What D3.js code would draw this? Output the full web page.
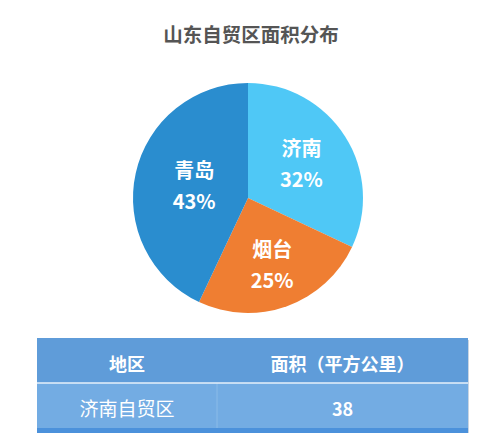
<!DOCTYPE html>
<html lang="zh">
<head>
<meta charset="UTF-8">
<title>山东自贸区面积分布</title>
<script src="https://d3js.org/d3.v7.min.js"></script>
<style>
  body { margin: 0; background: #fff; }
  svg { display: block; font-family: "Noto Sans CJK SC", "Noto Sans", sans-serif; }
</style>
</head>
<body>
<div id="chart"></div>
<script>
// 饼图数据
var names = ["济南", "烟台", "青岛"];
var shares = [32, 25, 43];
var colors = ["#4fc8f6", "#ef7e32", "#2a8dcf"];

// 表格数据（只显示到第一行，下一行被截断）
var headers = ["地区", "面积（平方公里）"];
var regions = ["济南自贸区"];
var areas = [38];

var W = 500, H = 433;
var svg = d3.select("#chart").append("svg")
    .attr("width", W).attr("height", H);

// 标题
svg.append("text")
    .attr("x", 251).attr("y", 42)
    .attr("text-anchor", "middle")
    .style("font-size", "19.5px").style("font-weight", "bold")
    .style("fill", "#555")
    .text("山东自贸区面积分布");

// 饼图
var cx = 248, cy = 198, r = 115;
var data = names.map(function(d, i) { return {name: d, value: shares[i], color: colors[i]}; });
var pie = d3.pie().sort(null).value(function(d) { return d.value; });
var arc = d3.arc().innerRadius(0).outerRadius(r);
var g = svg.append("g").attr("transform", "translate(" + cx + "," + cy + ")");

var arcs = pie(data);
g.selectAll("path").data(arcs).enter().append("path")
    .attr("d", arc)
    .style("fill", function(d) { return d.data.color; });

// 标签位置（每块标签离圆心的比例不同）
var labelR = [0.55, 0.62, 0.48];
var lab = g.selectAll("g.lab").data(arcs).enter().append("g")
    .attr("class", "lab")
    .attr("transform", function(d, i) {
        var lr = r * labelR[i];
        var c = d3.arc().innerRadius(lr).outerRadius(lr).centroid(d);
        return "translate(" + c[0] + "," + c[1] + ")";
    });
lab.append("text")
    .attr("y", -8)
    .attr("text-anchor", "middle")
    .style("font-size", "20px").style("font-weight", "bold").style("fill", "#fff")
    .text(function(d) { return d.data.name; });
lab.append("text")
    .attr("y", 23)
    .attr("text-anchor", "middle")
    .style("font-size", "20px").style("font-weight", "bold").style("fill", "#fff")
    .text(function(d) { return d.data.value + "%"; });

// 表格
var tx = 37, tw = 431, split = 217, ty = 338, rh = 45;
var colX = [(tx + split) / 2, (split + tx + tw) / 2];
var rowColors = ["#73ace3", "#4b91db"];

svg.append("rect")
    .attr("x", tx).attr("y", ty + 1).attr("width", tw).attr("height", rh * 3)
    .style("fill", "#c9d5e2").attr("transform", "translate(1,1)");

svg.append("rect")
    .attr("x", tx).attr("y", ty).attr("width", tw).attr("height", rh)
    .style("fill", "#5f9cd9");
svg.selectAll("text.hd").data(headers).enter().append("text")
    .attr("class", "hd")
    .attr("x", function(d, i) { return colX[i]; })
    .attr("y", ty + 33)
    .attr("text-anchor", "middle")
    .style("font-size", "18px").style("font-weight", "bold").style("fill", "#fff")
    .text(function(d) { return d; });

var rows = svg.selectAll("g.row").data(regions).enter().append("g")
    .attr("class", "row")
    .attr("transform", function(d, i) { return "translate(0," + (ty + rh * (i + 1)) + ")"; });
rows.append("rect")
    .attr("x", tx).attr("width", tw).attr("height", rh)
    .style("fill", function(d, i) { return rowColors[i % 2]; });
rows.append("line")
    .attr("x1", split).attr("x2", split).attr("y1", 0).attr("y2", rh)
    .style("stroke", "#8bbbe8").style("stroke-width", 1);
rows.append("text")
    .attr("x", colX[0]).attr("y", 33)
    .attr("text-anchor", "middle")
    .style("font-size", "19px").style("fill", "#fff")
    .text(function(d) { return d; });
rows.append("text")
    .attr("x", colX[1]).attr("y", 33)
    .attr("text-anchor", "middle")
    .style("font-size", "18px").style("font-weight", "bold").style("fill", "#fff")
    .text(function(d, i) { return areas[i]; });

// 被截断的下一行
svg.append("rect")
    .attr("x", tx).attr("y", ty + rh * (regions.length + 1))
    .attr("width", tw).attr("height", rh)
    .style("fill", rowColors[1]);

// 表头下的白线
svg.append("line")
    .attr("x1", tx).attr("x2", tx + tw).attr("y1", ty + rh).attr("y2", ty + rh)
    .style("stroke", "#e6f0fa").style("stroke-width", 1.5);
</script>
</body>
</html>
